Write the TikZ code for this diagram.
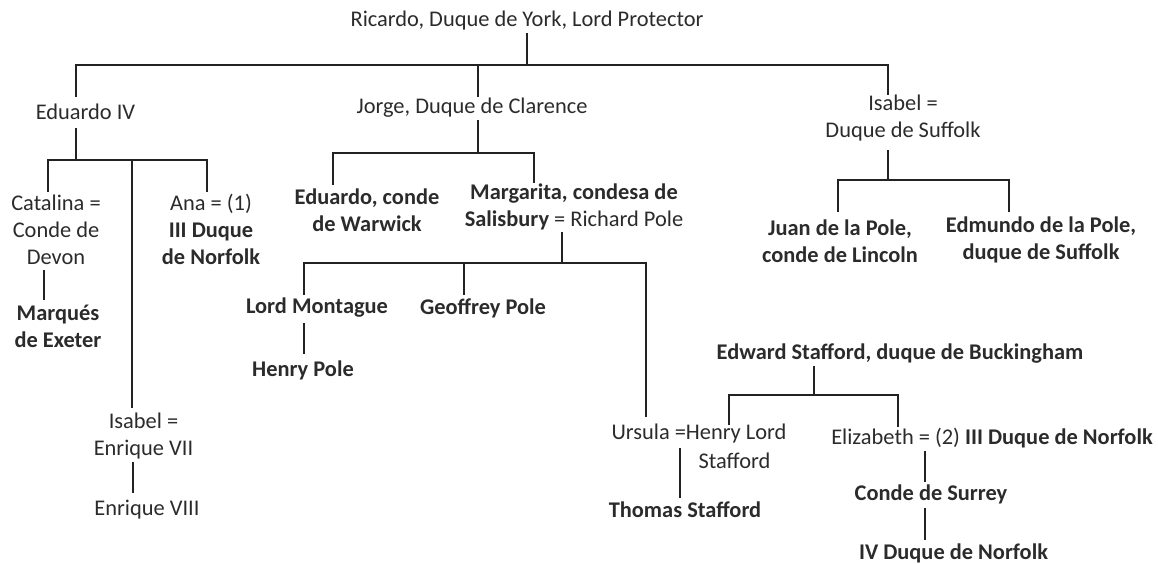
\documentclass[tikz,border=0pt]{standalone}
\usepackage{fontspec}
\setmainfont{Carlito}
\definecolor{txtgray}{HTML}{2B2B2B}
\definecolor{lngray}{HTML}{222222}
\begin{document}
\begin{tikzpicture}[x=1pt,y=-1pt,
  txt/.style={inner sep=0pt, text=txtgray, font=\fontsize{22.4}{27}\selectfont, align=center},
  ln/.style={line width=1.8pt, draw=lngray}]
\useasboundingbox (0,0) rectangle (1158,564);
% nodes
\node[txt] (ricardo) at (527,21) {Ricardo, Duque de York, Lord Protector};
\node[txt] (eduardo) at (85.5,112) {Eduardo IV};
\node[txt] (jorge) at (472,108) {Jorge, Duque de Clarence};
\node[txt] (isabelS) at (903,118) {Isabel =\\Duque de Suffolk};
\node[txt] (catalina) at (56,230) {Catalina =\\Conde de\\Devon};
\node[txt] (marques) at (58,326) {\textbf{Marqués}\\\textbf{de Exeter}};
\node[txt] (ana) at (211,229) {Ana = (1)\\\textbf{III Duque}\\\textbf{de Norfolk}};
\node[txt] (isabelE) at (143.5,436) {Isabel =\\Enrique VII};
\node[txt] (enrique8) at (147,510) {Enrique VIII};
\node[txt] (warwick) at (367,210) {\textbf{Eduardo, conde}\\\textbf{de Warwick}};
\node[txt] (margarita) at (574,206.5) {\textbf{Margarita, condesa de}\\\textbf{Salisbury} = Richard Pole};
\node[txt] (montague) at (317,308) {\textbf{Lord Montague}};
\node[txt] (geoffrey) at (483,308) {\textbf{Geoffrey Pole}};
\node[txt] (henry) at (303,370) {\textbf{Henry Pole}};
\node[txt] (juan) at (840,241.5) {\textbf{Juan de la Pole,}\\\textbf{conde de Lincoln}};
\node[txt] (edmundo) at (1041,240) {\textbf{Edmundo de la Pole,}\\\textbf{duque de Suffolk}};
\node[txt] (edward) at (900,354) {\textbf{Edward Stafford, duque de Buckingham}};
\node[txt] (ursula) at (699,434) {Ursula =Henry Lord};
\node[txt] (ursulab) at (734.5,461) {Stafford};
\node[txt] (thomas) at (685,510) {\textbf{Thomas Stafford}};
\node[txt] (elizabeth) at (992,438) {Elizabeth = (2) \textbf{III Duque de Norfolk}};
\node[txt] (surrey) at (931,494) {\textbf{Conde de Surrey}};
\node[txt] (ivnorfolk) at (953.5,553) {\textbf{IV Duque de Norfolk}};
% coordinates
\coordinate (rB) at (527,33); \coordinate (rJ) at (527,65);
\coordinate (eT) at (76,97); \coordinate (jT) at (478,97); \coordinate (jJ) at (478,65);
\coordinate (iT) at (888,95);
\coordinate (eB) at (76,128); \coordinate (eJ) at (76,160);
\coordinate (cT) at (48,192); \coordinate (aT) at (207,192);
\coordinate (mJ) at (132,160); \coordinate (ieT) at (132,408);
\coordinate (cB) at (44,270); \coordinate (mT) at (44,300);
\coordinate (ieB) at (133,462); \coordinate (e8T) at (133,493);
\coordinate (jB) at (478,120); \coordinate (jJ2) at (478,153);
\coordinate (wT) at (333,185); \coordinate (mgT) at (534,183);
\coordinate (mgB) at (562,232); \coordinate (mgJ) at (562,263);
\coordinate (moT) at (304,295); \coordinate (gT) at (464,295); \coordinate (uT) at (646,417);
\coordinate (moB) at (304,323); \coordinate (hT) at (304,354);
\coordinate (isB) at (888,150); \coordinate (isJ) at (888,180);
\coordinate (juT) at (838,212); \coordinate (edT) at (1009,212);
\coordinate (bB) at (814,366); \coordinate (bJ) at (814,395);
\coordinate (ubT) at (729,425); \coordinate (elT) at (898,427);
\coordinate (uB) at (680,448); \coordinate (thT) at (680,498);
\coordinate (elB) at (925,451); \coordinate (suT) at (925,482);
\coordinate (suB) at (925,508); \coordinate (ivT) at (925,540);
% connectors
\draw[ln] (rB) -- (rJ);
\draw[ln] (eT) |- (rJ) -| (iT);
\draw[ln] (jJ) -- (jT);
\draw[ln] (eB) -- (eJ);
\draw[ln] (cT) |- (eJ) -| (aT);
\draw[ln] (mJ) -- (ieT);
\draw[ln] (cB) -- (mT);
\draw[ln] (ieB) -- (e8T);
\draw[ln] (jB) -- (jJ2);
\draw[ln] (wT) |- (jJ2) -| (mgT);
\draw[ln] (mgB) -- (mgJ);
\draw[ln] (moT) |- (mgJ) -| (uT);
\draw[ln] (gT) -- (gT |- mgJ);
\draw[ln] (moB) -- (hT);
\draw[ln] (isB) -- (isJ);
\draw[ln] (juT) |- (isJ) -| (edT);
\draw[ln] (bB) -- (bJ);
\draw[ln] (ubT) |- (bJ) -| (elT);
\draw[ln] (uB) -- (thT);
\draw[ln] (elB) -- (suT);
\draw[ln] (suB) -- (ivT);
\end{tikzpicture}
\end{document}
